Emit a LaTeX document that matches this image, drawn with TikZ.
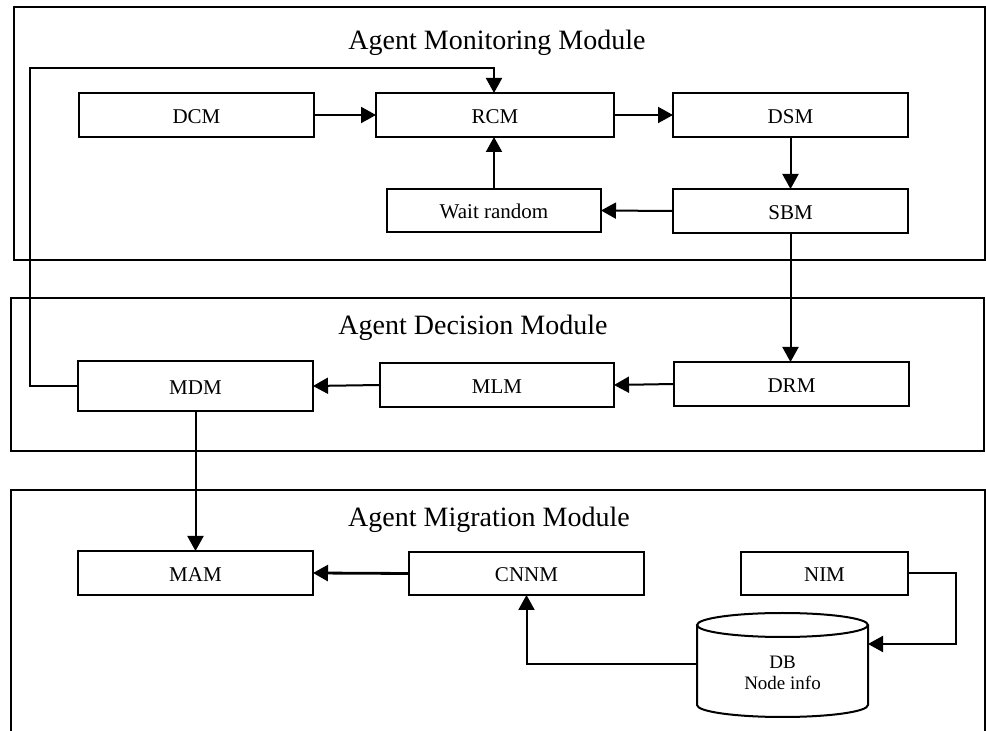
\documentclass[tikz,border=0pt]{standalone}
\usepackage{fontspec}
\setmainfont{Liberation Serif}
\usetikzlibrary{arrows.meta}
\begin{document}
\begin{tikzpicture}[x=0.5pt,y=-0.5pt,
  box/.style={draw, line width=1pt, inner sep=0pt, outer sep=0pt, minimum height=22pt,
    text height=8.5pt, text depth=0pt, font=\fontsize{10.5}{12}\selectfont},
  modbox/.style={draw, line width=1pt},
  title/.style={font=\fontsize{14}{16}\selectfont, inner sep=0pt},
  arr/.style={draw, line width=1pt, -{Triangle[length=7.5pt,width=8pt]}},
  line/.style={draw, line width=1pt}]
\useasboundingbox (0,0) rectangle (986,731);
% module frames
\draw[modbox] (14,7) rectangle (985,260);
\draw[modbox] (11,298) rectangle (984,451);
\draw[modbox] (11,740) -- (11,490) -- (985,490) -- (985,740);
\node[title] (tmon) at (497,43) {Agent Monitoring Module};
\node[title] (tdec) at (473,328) {Agent Decision Module};
\node[title] (tmig) at (489,520) {Agent Migration Module};
% monitoring boxes
\node[box, minimum width=117.5pt] (dcm) at (196.5,115) {DCM};
\node[box, minimum width=119pt] (rcm) at (495,115) {RCM};
\node[box, minimum width=117.5pt] (dsm) at (790.5,115) {DSM};
\node[box, minimum width=107pt, minimum height=21.5pt] (wait) at (494,210.5) {Wait random};
\node[box, minimum width=117.5pt] (sbm) at (790.5,211) {SBM};
% decision boxes
\node[box, minimum width=117.5pt, minimum height=25pt] (mdm) at (195.5,386) {MDM};
\node[box, minimum width=117pt] (mlm) at (497,385) {MLM};
\node[box, minimum width=117.5pt] (drm) at (791.5,384) {DRM};
% migration boxes
\node[box, minimum width=117.5pt] (mam) at (195.5,573) {MAM};
\node[box, minimum width=117.5pt, minimum height=21.5pt] (cnnm) at (526.5,573.5) {CNNM};
\node[box, minimum width=83.5pt, minimum height=21.5pt] (nim) at (824.5,573.5) {NIM};
% database cylinder
\draw[line] (697,625) -- (697,705) arc[start angle=180, end angle=360, x radius=42.75pt, y radius=6pt] -- (868,625);
\draw[line] (782.5,625) ellipse [x radius=42.75pt, y radius=6pt];
\node[align=center, inner sep=0pt, font=\fontsize{9.5}{10.5}\selectfont] (db) at (782.5,673) {DB\\Node info};
\coordinate (dbL) at (697,664);
\coordinate (dbR) at (868,644);
% connectors
\draw[arr] (dcm.east) -- (rcm.west);
\draw[arr] (rcm.east) -- (dsm.west);
\draw[arr] (dsm.south) -- (sbm.north);
\draw[arr] (sbm.west) -- (wait.east);
\draw[arr] (wait.north) -- (wait.north |- rcm.south);
\draw[arr] (sbm.south) -- (sbm.south |- drm.north);
\draw[arr] (drm.west) -- (mlm.east);
\draw[arr] (mlm.west) -- (mdm.east);
\coordinate (fb) at (30,68);
\draw[arr] (mdm.west) -| (fb) -| (wait.north |- rcm.north);
\draw[arr] (mdm.south) -- (mam.north);
\draw[arr, line width=1.4pt] (cnnm.west) -- (mam.east);
\coordinate (nimc) at (956,644);
\draw[arr] (nim.east) -| (nimc) -- (dbR);
\draw[arr] (dbL) -| (cnnm.south);
\end{tikzpicture}
\end{document}
